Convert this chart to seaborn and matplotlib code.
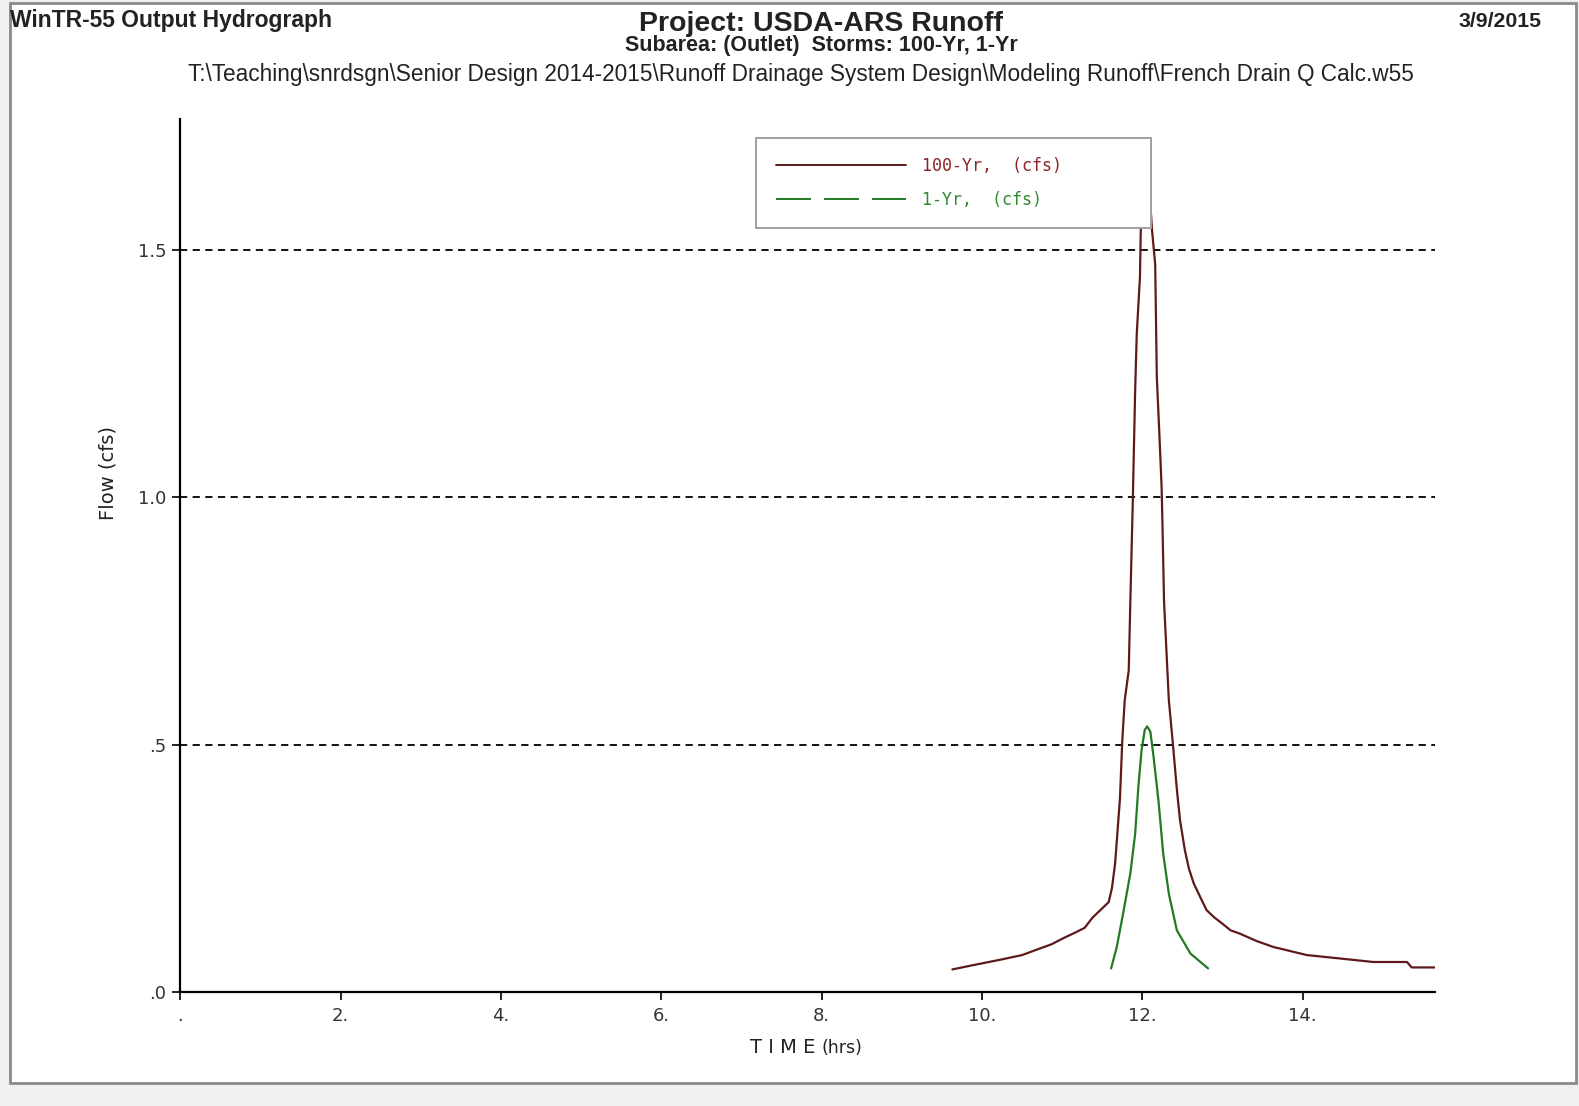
import matplotlib
matplotlib.use("Agg")
import matplotlib.pyplot as plt
import seaborn as sns
from matplotlib.lines import Line2D
from matplotlib.patches import Rectangle
from matplotlib import font_manager

# 100-yr storm hydrograph (time hrs, flow cfs)
t_100 = [9.63, 9.90, 10.24, 10.50, 10.70, 10.87, 11.00, 11.17, 11.28, 11.38,
         11.51, 11.58, 11.62, 11.66, 11.72, 11.75, 11.78, 11.83, 11.85, 11.88,
         11.91, 11.93, 11.97, 11.98, 12.05, 12.12, 12.16, 12.18, 12.21, 12.24,
         12.25, 12.27, 12.30, 12.33, 12.38, 12.43, 12.47, 12.53, 12.58, 12.64,
         12.74, 12.80, 12.89, 12.97, 13.10, 13.22, 13.43, 13.64, 13.72, 14.05,
         14.47, 14.88, 15.30, 15.36, 15.65]
q_100 = [0.046, 0.055, 0.066, 0.075, 0.087, 0.097, 0.108, 0.121, 0.130, 0.151,
         0.171, 0.182, 0.210, 0.260, 0.390, 0.510, 0.590, 0.650, 0.790, 0.988,
         1.216, 1.330, 1.445, 1.540, 1.720, 1.540, 1.470, 1.243, 1.135, 1.020,
         0.950, 0.790, 0.690, 0.590, 0.503, 0.410, 0.347, 0.287, 0.250, 0.220,
         0.186, 0.166, 0.152, 0.142, 0.125, 0.118, 0.103, 0.091, 0.088, 0.075,
         0.068, 0.061, 0.061, 0.050, 0.050]

# 1-yr storm hydrograph
t_1 = [11.61, 11.68, 11.76, 11.85, 11.91, 11.95, 11.99, 12.03, 12.06, 12.10,
       12.14, 12.20, 12.26, 12.33, 12.43, 12.60, 12.82]
q_1 = [0.048, 0.091, 0.159, 0.240, 0.320, 0.415, 0.489, 0.530, 0.537, 0.526,
       0.475, 0.388, 0.280, 0.199, 0.125, 0.078, 0.048]

x_ticks = [0, 2, 4, 6, 8, 10, 12, 14]
x_labels = [".", "2.", "4.", "6.", "8.", "10.", "12.", "14."]
y_ticks = [0, 0.5, 1.0, 1.5]
y_labels = [".0", ".5", "1.0", "1.5"]
series_labels = ["100-Yr,  (cfs)", "1-Yr,  (cfs)"]

red = "#5e1a1a"
green = "#237a23"
red_txt = "#8b2525"
green_txt = "#2e8b2e"

sns.set_style("white")
plt.rcParams['font.family'] = ['Liberation Sans', 'DejaVu Sans']

installed = {f.name for f in font_manager.fontManager.ttflist}
head_font = ["Liberation Sans Narrow"] if "Liberation Sans Narrow" in installed else ["Liberation Sans"]

fig = plt.figure(figsize=(15.79, 11.06), dpi=100, facecolor="#f0f0f0")
fig.patches.append(Rectangle((0.0063, 0.021), 0.9917, 0.976, transform=fig.transFigure,
                             facecolor="white", edgecolor="#8a8a8a", linewidth=2, zorder=-5))

ax = fig.add_axes([0.1142, 0.1029, 0.7946, 0.7896])
ax.set_facecolor("white")

sns.lineplot(x=t_100, y=q_100, ax=ax, color=red, linewidth=1.6, estimator=None, legend=False)
sns.lineplot(x=t_1, y=q_1, ax=ax, color=green, linewidth=1.6, estimator=None, legend=False)

for yv in [0.5, 1.0, 1.5]:
    ax.axhline(yv, color="black", linestyle=(0, (4, 3)), linewidth=1.3, zorder=1)

ax.set_xlim(0, 15.65)
ax.set_ylim(0, 1.764)
ax.set_xticks(x_ticks)
ax.set_xticklabels(x_labels, family="DejaVu Sans")
ax.set_yticks(y_ticks)
ax.set_yticklabels(y_labels, family="DejaVu Sans")
ax.tick_params(axis="both", direction="out", length=6, width=1.2, labelsize=13,
               colors="black", labelcolor="#333333", bottom=True, left=True)
ax.tick_params(axis="x", pad=5)
ax.tick_params(axis="y", pad=4)
for s in ["top", "right"]:
    ax.spines[s].set_visible(False)
for s in ["left", "bottom"]:
    ax.spines[s].set_color("black")
    ax.spines[s].set_linewidth(1.6)

# axis titles placed like the original (y title sits above the middle)
fig.text(0.0685, 0.572, "Flow (cfs)", rotation=90, fontsize=14, family="DejaVu Sans",
         color="#222222", ha="center", va="center")
t_lab = fig.text(0.4751, 0.0483, "T I M E", fontsize=14, family="DejaVu Sans",
                 color="#222222", ha="left", va="baseline")
fig.canvas.draw()
bb = t_lab.get_window_extent()
fig.text((bb.x1 + 6) / fig.bbox.width, 0.0483, "(hrs)", fontsize=12.5, family="DejaVu Sans",
         color="#222222", ha="left", va="baseline")

handles = [Line2D([], [], color=red, linewidth=1.4),
           Line2D([], [], color=green, linewidth=1.4, linestyle=(0, (18, 6.7)))]
leg = ax.legend(handles, series_labels, loc="upper left", mode="expand",
                bbox_to_anchor=(751 / 1568, 1 - 226 / 1098, 392 / 1568, 89 / 1098),
                bbox_transform=fig.transFigure,
                frameon=True, fancybox=False, framealpha=1, edgecolor="#a0a0a0",
                handlelength=7.8, labelspacing=0.93, borderpad=1.16, handletextpad=1.0,
                borderaxespad=0, prop={"family": "DejaVu Sans Mono", "size": 12})
leg.get_frame().set_linewidth(1.4)
for txt, c in zip(leg.get_texts(), [red_txt, green_txt]):
    txt.set_color(c)

fig.text(0.0066, 0.9754, "WinTR-55 Output Hydrograph", fontsize=16.5, fontweight="bold",
         family=head_font, ha="left", va="baseline", color="#222222")
fig.text(0.976, 0.9754, "3/9/2015", fontsize=15.3, fontweight="bold", family=head_font,
         ha="right", va="baseline", color="#222222")
fig.text(0.52, 0.9718, "Project: USDA-ARS Runoff", fontsize=20.5, fontweight="bold",
         family=head_font, ha="center", va="baseline", color="#222222")
fig.text(0.52, 0.9535, "Subarea: (Outlet)  Storms: 100-Yr, 1-Yr", fontsize=15.5,
         fontweight="bold", family=head_font, ha="center", va="baseline", color="#222222")
fig.text(0.507, 0.9265,
         "T:\\Teaching\\snrdsgn\\Senior Design 2014-2015\\Runoff Drainage System Design\\Modeling Runoff\\French Drain Q Calc.w55",
         fontsize=16.3, family=head_font, ha="center", va="baseline", color="#222222")

fig.savefig("out.png", dpi=100, facecolor=fig.get_facecolor())
